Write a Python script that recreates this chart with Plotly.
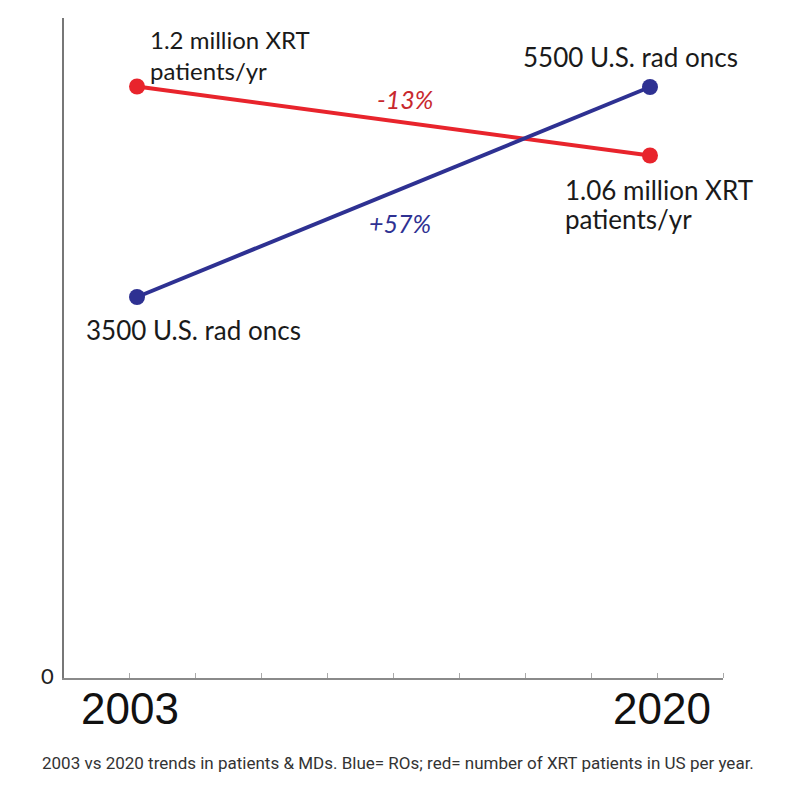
import plotly.graph_objects as go

years = [2003, 2020]
patients_m = [1.2, 1.06]          # million XRT patients per year (red)
rad_oncs = [3500, 5500]           # U.S. radiation oncologists (blue)
year_labels = ["2003", "2020"]
patients_start = ["1.2 million XRT", "patients/yr"]
patients_end = ["1.06 million XRT", "patients/yr"]
oncs_text = ["3500 U.S. rad oncs", "5500 U.S. rad oncs"]
change_text = ["-13%", "+57%"]
caption = "2003 vs 2020 trends in patients & MDs. Blue= ROs; red= number of XRT patients in US per year."

RED = "#e8242c"
BLUE = "#2e3192"

x_range = [2000.58, 2022.42]
step = (x_range[1] - x_range[0]) / 10
minor_vals = [x_range[0] + step * k for k in range(1, 11)]

fig = go.Figure()
fig.add_trace(go.Scatter(x=years, y=patients_m, mode="lines+markers", yaxis="y",
                         line=dict(color=RED, width=4), marker=dict(color=RED, size=16),
                         cliponaxis=False, showlegend=False))
fig.add_trace(go.Scatter(x=years, y=rad_oncs, mode="lines+markers", yaxis="y2",
                         line=dict(color=BLUE, width=4), marker=dict(color=BLUE, size=16),
                         cliponaxis=False, showlegend=False))

lbl24 = dict(family="Lato", size=24, color="#1a1a1a")
lbl26 = dict(family="Lato", size=26, color="#1a1a1a")
yearfont = dict(family="Liberation Sans", size=44, color="#111")
ann = [
    dict(x=years[0], y=patients_m[0], xref="x", yref="y", text="<br>".join(patients_start), showarrow=False,
         xanchor="left", yanchor="bottom", xshift=11, yshift=0, align="left", font=lbl24),
    dict(x=years[1], y=patients_m[1], xref="x", yref="y", text=patients_end[0], showarrow=False,
         xanchor="left", yanchor="middle", xshift=-87, yshift=-34, align="left", font=lbl26),
    dict(x=years[1], y=patients_m[1], xref="x", yref="y", text=patients_end[1], showarrow=False,
         xanchor="left", yanchor="middle", xshift=-87, yshift=-63, align="left", font=lbl26),
    dict(x=years[0], y=rad_oncs[0], xref="x", yref="y2", text=oncs_text[0], showarrow=False,
         xanchor="center", yanchor="top", xshift=56, yshift=-15, font=lbl26),
    dict(x=years[1], y=rad_oncs[1], xref="x", yref="y2", text=oncs_text[1], showarrow=False,
         xanchor="center", yanchor="bottom", xshift=-19, yshift=12, font=lbl26),
    dict(x=(years[0] + years[1]) / 2, y=(patients_m[0] + patients_m[1]) / 2, xref="x", yref="y",
         text="<i>" + change_text[0] + "</i>", showarrow=False, xshift=11, yshift=22,
         font=dict(family="Lato", size=25, color="#c8282e")),
    dict(x=(years[0] + years[1]) / 2, y=(rad_oncs[0] + rad_oncs[1]) / 2, xref="x", yref="y2",
         text="<i>" + change_text[1] + "</i>", showarrow=False, xshift=6, yshift=-31,
         font=dict(family="Lato", size=25, color=BLUE)),
    dict(x=years[0], y=0, xref="x", yref="paper", text=year_labels[0], showarrow=False,
         xanchor="center", yanchor="middle", xshift=-7, yshift=-30, font=yearfont),
    dict(x=years[1], y=0, xref="x", yref="paper", text=year_labels[1], showarrow=False,
         xanchor="center", yanchor="middle", xshift=12, yshift=-30, font=yearfont),
    dict(x=0.5, y=0, xref="paper", yref="paper", text=caption, showarrow=False,
         xanchor="center", yanchor="middle", yshift=-85, xshift=4,
         font=dict(family="Roboto", size=17, color="#333")),
    dict(x=0, y=0, xref="paper", yref="paper", text="0", showarrow=False,
         xanchor="right", yanchor="middle", xshift=-8, yshift=3,
         font=dict(family="Lato", size=22, color="#222")),
]

fig.update_layout(
    width=800, height=798,
    margin=dict(l=56, r=85, t=10, b=128),
    paper_bgcolor="white", plot_bgcolor="white",
    annotations=ann,
    xaxis=dict(range=x_range, showticklabels=False, ticks="",
               showgrid=False, zeroline=False, showline=True, linecolor="#8a8a8a", linewidth=2,
               minor=dict(tickvals=minor_vals, ticks="inside", ticklen=5, tickcolor="#aaa", tickwidth=1)),
    yaxis=dict(range=[0, 1.339], showticklabels=False, ticks="", showgrid=False,
               zeroline=False, showline=True, linecolor="#777", linewidth=2),
    yaxis2=dict(range=[-128.6, 6157], overlaying="y", visible=False),
)

fig.write_html("out.html")
